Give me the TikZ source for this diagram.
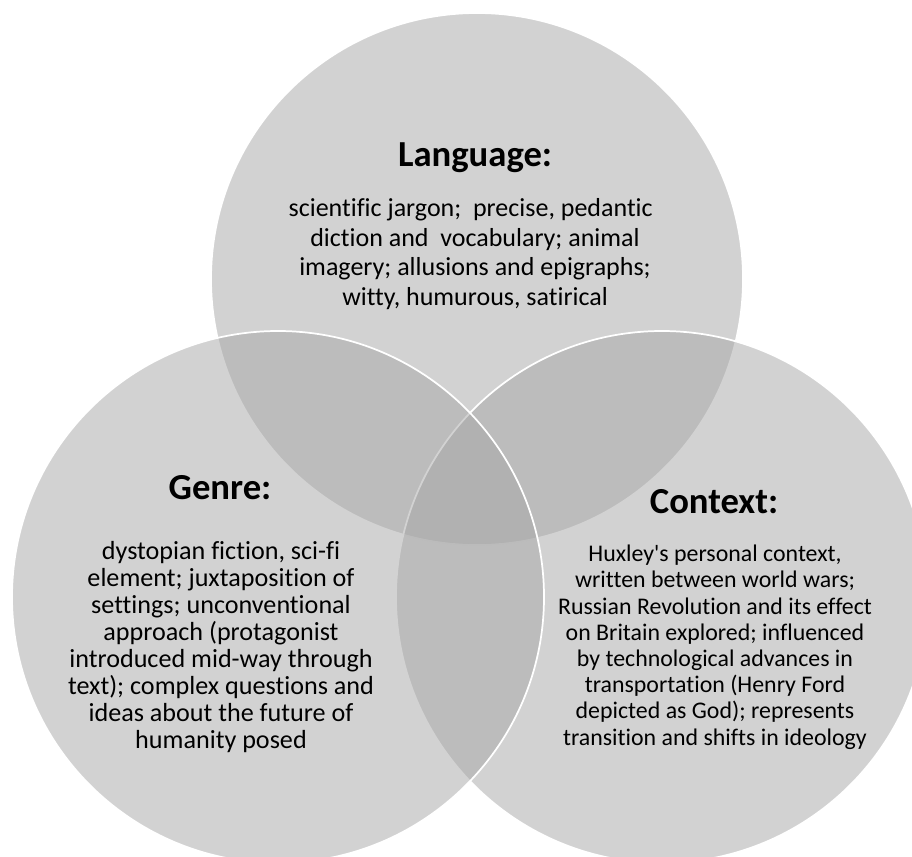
\documentclass[tikz,border=0pt]{standalone}
\usepackage{fontspec}
% Carlito without TeX quote mapping and without common ligatures
\newfontfamily\vennfont{Carlito}[Ligatures=NoCommon]
\begin{document}
\begin{tikzpicture}[x=0.75pt,y=-0.75pt,
  venn/.style={circle, inner sep=0pt, outer sep=0pt, minimum size=399pt,
    fill=black!35, fill opacity=0.5, draw=white, line width=1.3pt},
  vtitle/.style={anchor=base, font=\vennfont\fontsize{27.5}{32}\selectfont\bfseries, text=black},
  vbody/.style={anchor=base, align=center, text=black, inner sep=0pt}]
  % canvas
  \path[use as bounding box] (0,0) rectangle (912,856);
  \clip (0,0) rectangle (912,856);
  % three overlapping translucent circles (top, right, then left on top)
  \node (langc) [venn] at (477,279) {};
  \node (contc) [venn] at (662,597) {};
  \node (genc)  [venn] at (278,597) {};
  % Language (anchor at the baseline of the last line)
  \node (langt) [vtitle] at (475,166.7) {Language:};
  \node (langb) [vbody, font=\vennfont\fontsize{19.5}{22.1}\selectfont] at (475,305)
    {scientific jargon;\ \ precise, pedantic\hspace*{6.5pt}\\ diction and\ \ vocabulary; animal\\
     imagery; allusions and epigraphs;\\ witty, humurous, satirical};
  % Genre
  \node (gent) [vtitle] at (220,499) {Genre:};
  \node (genb) [vbody, font=\vennfont\fontsize{19.6}{20.25}\selectfont] at (221,748)
    {dystopian fiction, sci-fi\\ element; juxtaposition of\\ settings; unconventional\\
     approach (protagonist\\ introduced mid-way through\\ text); complex questions and\\
     ideas about the future of\\ humanity posed};
  % Context
  \node (contt) [vtitle] at (714,513) {Context:};
  \node (contb) [vbody, font=\vennfont\fontsize{17.9}{19.65}\selectfont] at (715,745)
    {Huxley's personal context,\\ written between world wars;\\ Russian Revolution and its effect\\
     on Britain explored; influenced\\ by technological advances in\\ transportation (Henry Ford\\
     depicted as God); represents\\ transition and shifts in ideology};
\end{tikzpicture}
\end{document}
